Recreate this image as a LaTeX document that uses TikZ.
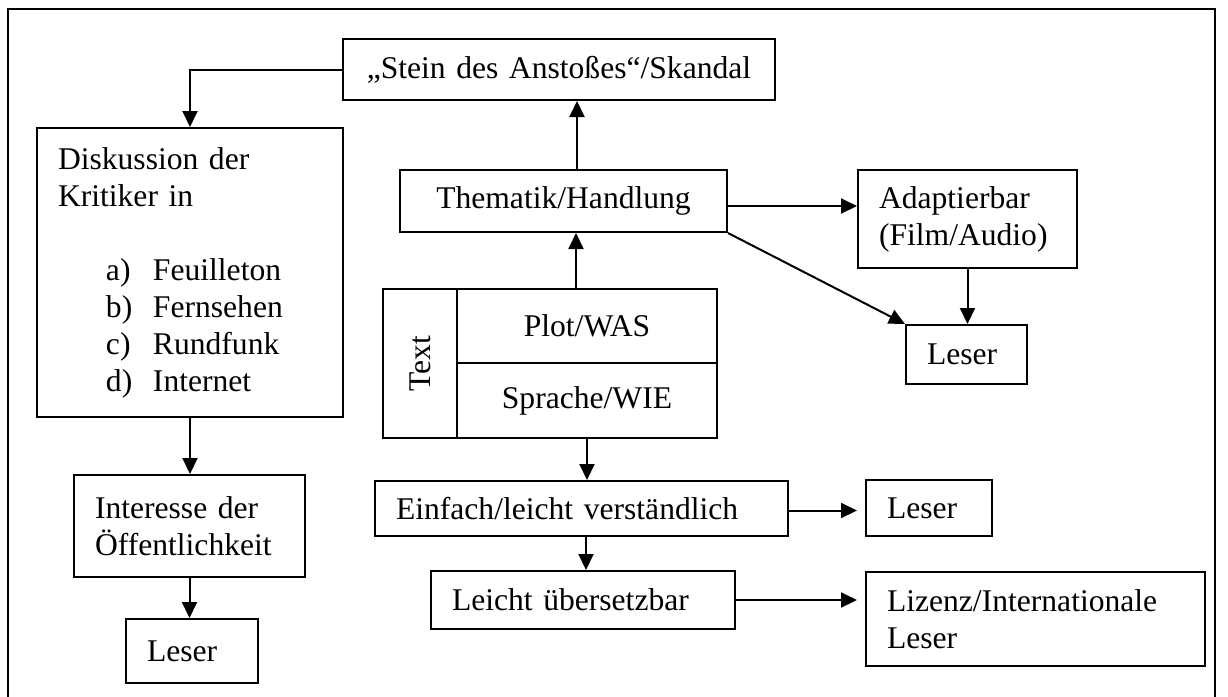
\documentclass[tikz,border=0pt]{standalone}
\usepackage{fontspec}
\setmainfont{Liberation Serif}
\usetikzlibrary{arrows.meta}
\begin{document}
\begin{tikzpicture}[x=0.5pt, y=-0.5pt, line join=miter,
  font=\fontsize{15.8pt}{18.5pt}\selectfont,
  box/.style={draw, line width=1pt, inner xsep=10.5pt, inner ysep=0pt, align=left},
  cbox/.style={box, align=center},
  arr/.style={line width=1pt, -{Triangle[length=8pt, width=7.5pt]}}]
\useasboundingbox (0,0) rectangle (1228,697);
\draw[line width=1pt] (8,697) |- (1215,9) -- (1215,697);
% left column
\node[cbox, text width=195pt, minimum height=30.5pt] (stein) at (559,69.5) {„Stein des Anstoßes“/Skandal};
\node[box, text width=132pt, minimum height=144.5pt] (disk) at (190,272.5)
  {Diskussion der\\Kritiker in\\[18.5pt]
   \hspace*{24pt}\makebox[23.5pt][l]{a)}Feuilleton\\
   \hspace*{24pt}\makebox[23.5pt][l]{b)}Fernsehen\\
   \hspace*{24pt}\makebox[23.5pt][l]{c)}Rundfunk\\
   \hspace*{24pt}\makebox[23.5pt][l]{d)}Internet};
\node[box, text width=94.5pt, minimum height=51pt] (inter) at (189.5,526) {Interesse der\\Öffentlichkeit};
\node[box, text width=45pt, minimum height=32pt] (leserC) at (192,651) {Leser};
% middle column
\node[cbox, text width=142.5pt, minimum height=31pt] (them) at (563.5,201) {Thematik/Handlung};
\node[box, inner xsep=0pt, minimum width=37pt, minimum height=74.5pt, align=center] (textL) at (420,363.5) {\rotatebox{90}{Text}};
\node[cbox, inner xsep=0pt, minimum width=130pt, minimum height=37pt] (plot) at (587,326) {Plot/WAS};
\node[cbox, inner xsep=0pt, minimum width=130pt, minimum height=37.5pt] (sprache) at (587,400.5) {Sprache/WIE};
\node[box, text width=185.5pt, minimum height=27.5pt] (einf) at (581.5,508.5) {Einfach/leicht verständlich};
\node[box, text width=131pt, minimum height=29pt] (leicht) at (583,600) {Leicht übersetzbar};
% right column
\node[box, text width=88.5pt, minimum height=49pt] (adapt) at (967.5,219) {Adaptierbar\\(Film/Audio)};
\node[box, text width=39.5pt, minimum height=29.5pt] (leserA) at (966.5,354.5) {Leser};
\node[box, text width=42pt, minimum height=28pt] (leserB) at (929,508) {Leser};
\node[box, text width=148.5pt, minimum height=47pt] (lizenz) at (1035.5,619) {Lizenz/Internationale\\Leser};
% arrows
\draw[arr] (stein.west) -| (disk.north);
\draw[arr] (disk.south) -- (disk.south |- inter.north);
\draw[arr] (inter.south) -- (inter.south |- leserC.north);
\draw[arr] ([xshift=6.75pt]them.north) -- ([xshift=6.75pt]them.north |- stein.south);
\draw[arr] ([xshift=-5.5pt]plot.north) -- ([xshift=-5.5pt]plot.north |- them.south);
\draw[arr] ([yshift=-2.5pt]them.east) -- ([yshift=-2.5pt]them.east -| adapt.west);
\draw[arr] (them.south east) -- (leserA.north west);
\draw[arr] (adapt.south) -- (adapt.south |- leserA.north);
\draw[arr] (sprache.south) -- (sprache.south |- einf.north);
\draw[arr] ([xshift=2.25pt]einf.south) -- ([xshift=2.25pt]einf.south |- leicht.north);
\draw[arr, shorten >=4pt] ([yshift=-1pt]einf.east) -- ([yshift=-1pt]einf.east -| leserB.west);
\draw[arr, shorten >=4pt] (leicht.east) -- (leicht.east -| lizenz.west);
\end{tikzpicture}
\end{document}
